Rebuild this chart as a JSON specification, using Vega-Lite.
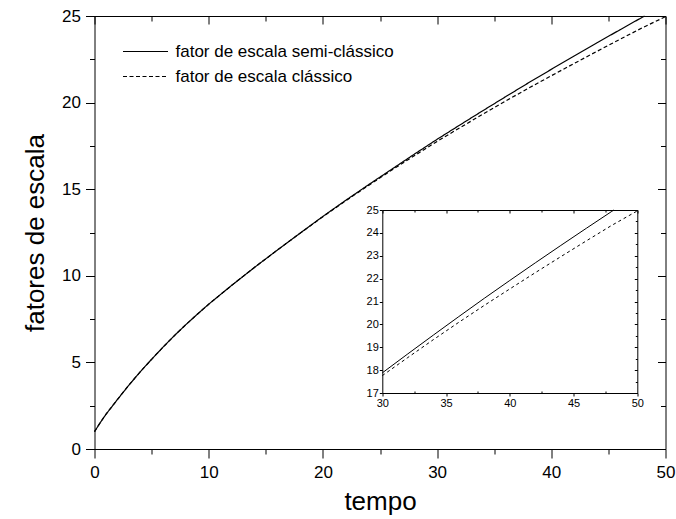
{
  "$schema": "https://vega.github.io/schema/vega-lite/v6.json",
  "width": 571,
  "height": 433,
  "autosize": "none",
  "padding": {"left": 94.5, "top": 16, "right": 10.5, "bottom": 70},
  "background": "white",
  "config": {
    "view": {"stroke": null},
    "font": "Liberation Sans",
    "axis": {
      "domainColor": "black",
      "domainWidth": 1,
      "tickColor": "black",
      "tickWidth": 1,
      "labelColor": "black",
      "labelFont": "Liberation Sans",
      "titleFont": "Liberation Sans",
      "titleColor": "black",
      "titleFontWeight": "normal",
      "grid": false
    }
  },
  "datasets": {
    "curves": [
      {"t": 0, "a": 1.0, "serie": "fator de escala semi-clássico"},
      {"t": 0.5, "a": 1.52, "serie": "fator de escala semi-clássico"},
      {"t": 1, "a": 2.0, "serie": "fator de escala semi-clássico"},
      {"t": 2, "a": 2.85, "serie": "fator de escala semi-clássico"},
      {"t": 3, "a": 3.68, "serie": "fator de escala semi-clássico"},
      {"t": 4, "a": 4.45, "serie": "fator de escala semi-clássico"},
      {"t": 5, "a": 5.18, "serie": "fator de escala semi-clássico"},
      {"t": 6, "a": 5.88, "serie": "fator de escala semi-clássico"},
      {"t": 7, "a": 6.55, "serie": "fator de escala semi-clássico"},
      {"t": 8, "a": 7.18, "serie": "fator de escala semi-clássico"},
      {"t": 9, "a": 7.78, "serie": "fator de escala semi-clássico"},
      {"t": 10, "a": 8.36, "serie": "fator de escala semi-clássico"},
      {"t": 12, "a": 9.44, "serie": "fator de escala semi-clássico"},
      {"t": 14, "a": 10.48, "serie": "fator de escala semi-clássico"},
      {"t": 16, "a": 11.48, "serie": "fator de escala semi-clássico"},
      {"t": 18, "a": 12.46, "serie": "fator de escala semi-clássico"},
      {"t": 20, "a": 13.43, "serie": "fator de escala semi-clássico"},
      {"t": 22, "a": 14.36, "serie": "fator de escala semi-clássico"},
      {"t": 24, "a": 15.26, "serie": "fator de escala semi-clássico"},
      {"t": 26, "a": 16.14, "serie": "fator de escala semi-clássico"},
      {"t": 28, "a": 17.02, "serie": "fator de escala semi-clássico"},
      {"t": 30, "a": 17.88, "serie": "fator de escala semi-clássico"},
      {"t": 32, "a": 18.71, "serie": "fator de escala semi-clássico"},
      {"t": 34, "a": 19.53, "serie": "fator de escala semi-clássico"},
      {"t": 36, "a": 20.34, "serie": "fator de escala semi-clássico"},
      {"t": 38, "a": 21.14, "serie": "fator de escala semi-clássico"},
      {"t": 40, "a": 21.92, "serie": "fator de escala semi-clássico"},
      {"t": 42, "a": 22.69, "serie": "fator de escala semi-clássico"},
      {"t": 44, "a": 23.45, "serie": "fator de escala semi-clássico"},
      {"t": 46, "a": 24.2, "serie": "fator de escala semi-clássico"},
      {"t": 48, "a": 24.94, "serie": "fator de escala semi-clássico"},
      {"t": 48.16, "a": 25.0, "serie": "fator de escala semi-clássico"},
      {"t": 0, "a": 1.0, "serie": "fator de escala clássico"},
      {"t": 0.5, "a": 1.52, "serie": "fator de escala clássico"},
      {"t": 1, "a": 2.0, "serie": "fator de escala clássico"},
      {"t": 2, "a": 2.85, "serie": "fator de escala clássico"},
      {"t": 3, "a": 3.68, "serie": "fator de escala clássico"},
      {"t": 4, "a": 4.45, "serie": "fator de escala clássico"},
      {"t": 5, "a": 5.18, "serie": "fator de escala clássico"},
      {"t": 6, "a": 5.88, "serie": "fator de escala clássico"},
      {"t": 7, "a": 6.55, "serie": "fator de escala clássico"},
      {"t": 8, "a": 7.18, "serie": "fator de escala clássico"},
      {"t": 9, "a": 7.78, "serie": "fator de escala clássico"},
      {"t": 10, "a": 8.36, "serie": "fator de escala clássico"},
      {"t": 12, "a": 9.44, "serie": "fator de escala clássico"},
      {"t": 14, "a": 10.48, "serie": "fator de escala clássico"},
      {"t": 16, "a": 11.48, "serie": "fator de escala clássico"},
      {"t": 18, "a": 12.46, "serie": "fator de escala clássico"},
      {"t": 20, "a": 13.41, "serie": "fator de escala clássico"},
      {"t": 22, "a": 14.33, "serie": "fator de escala clássico"},
      {"t": 24, "a": 15.22, "serie": "fator de escala clássico"},
      {"t": 26, "a": 16.09, "serie": "fator de escala clássico"},
      {"t": 28, "a": 16.93, "serie": "fator de escala clássico"},
      {"t": 30, "a": 17.76, "serie": "fator de escala clássico"},
      {"t": 32, "a": 18.55, "serie": "fator de escala clássico"},
      {"t": 34, "a": 19.33, "serie": "fator de escala clássico"},
      {"t": 36, "a": 20.09, "serie": "fator de escala clássico"},
      {"t": 38, "a": 20.83, "serie": "fator de escala clássico"},
      {"t": 40, "a": 21.55, "serie": "fator de escala clássico"},
      {"t": 42, "a": 22.26, "serie": "fator de escala clássico"},
      {"t": 44, "a": 22.96, "serie": "fator de escala clássico"},
      {"t": 46, "a": 23.65, "serie": "fator de escala clássico"},
      {"t": 48, "a": 24.33, "serie": "fator de escala clássico"},
      {"t": 50, "a": 24.96, "serie": "fator de escala clássico"}
    ]
  },
  "layer": [
    {
      "data": {"name": "curves"},
      "transform": [{"filter": "datum.serie === 'fator de escala semi-clássico'"}],
      "mark": {"type": "line", "color": "black", "strokeWidth": 1.2},
      "encoding": {
        "x": {
          "field": "t", "type": "quantitative",
          "scale": {"domain": [0, 50], "nice": false, "zero": false},
          "axis": {
            "orient": "bottom",
            "title": "tempo",
            "titleFontSize": 26,
            "titlePadding": 8,
            "values": [0, 5, 10, 15, 20, 25, 30, 35, 40, 45, 50],
            "labelExpr": "datum.value % 10 === 0 ? datum.label : ''",
            "labelFontSize": 17,
            "labelPadding": 6,
            "labelFlush": false,
            "tickSize": {"condition": {"test": "datum.value % 10 === 0", "value": 9}, "value": 5}
          }
        },
        "y": {
          "field": "a", "type": "quantitative",
          "scale": {"domain": [0, 25], "nice": false, "zero": false},
          "axis": {
            "orient": "left",
            "title": "fatores de escala",
            "titleFontSize": 26,
            "titlePadding": 13,
            "values": [0, 2.5, 5, 7.5, 10, 12.5, 15, 17.5, 20, 22.5, 25],
            "labelExpr": "datum.value % 5 === 0 ? datum.label : ''",
            "labelFontSize": 17,
            "labelPadding": 5,
            "labelFlush": false,
            "tickSize": {"condition": {"test": "datum.value % 5 === 0", "value": 9}, "value": 5}
          }
        },
        "strokeDash": {
          "field": "serie", "type": "nominal",
          "scale": {
            "domain": ["fator de escala semi-clássico", "fator de escala clássico"],
            "range": [[1, 0], [4, 2.5]]
          },
          "legend": {
            "orient": "none",
            "legendX": 41,
            "legendY": 25.5,
            "title": null,
            "symbolType": "M-2.5,0H2.5",
            "symbolSize": 324,
            "symbolStrokeWidth": 1.2,
            "symbolStrokeColor": "black",
            "labelFontSize": 17,
            "labelColor": "black",
            "labelFont": "Liberation Sans",
            "labelLimit": 0,
            "labelOffset": 20,
            "rowPadding": 7,
            "padding": 0
          }
        }
      }
    },
    {
      "data": {"name": "curves"},
      "transform": [{"filter": "datum.serie === 'fator de escala clássico'"}],
      "mark": {"type": "line", "color": "black", "strokeWidth": 1.2},
      "encoding": {
        "x": {
          "field": "t", "type": "quantitative",
          "scale": {"domain": [0, 50], "nice": false, "zero": false},
          "axis": {
            "orient": "top",
            "title": null,
            "labels": false,
            "values": [0, 5, 10, 15, 20, 25, 30, 35, 40, 45, 50],
            "tickSize": {"condition": {"test": "datum.value % 10 === 0", "value": -8}, "value": -5}
          }
        },
        "y": {
          "field": "a", "type": "quantitative",
          "scale": {"domain": [0, 25], "nice": false, "zero": false},
          "axis": {
            "orient": "right",
            "title": null,
            "labels": false,
            "values": [0, 2.5, 5, 7.5, 10, 12.5, 15, 17.5, 20, 22.5, 25],
            "tickSize": {"condition": {"test": "datum.value % 5 === 0", "value": -8}, "value": -5}
          }
        },
        "strokeDash": {"field": "serie", "type": "nominal"}
      }
    },
    {
      "data": {"name": "curves"},
      "transform": [
        {"filter": "datum.serie === 'fator de escala semi-clássico'"},
        {"filter": "datum.t >= 30"}
      ],
      "mark": {"type": "line", "color": "black", "strokeWidth": 1},
      "encoding": {
        "x": {
          "field": "t", "type": "quantitative",
          "scale": {"domain": [30, 50], "range": [287.8, 542.8], "nice": false, "zero": false},
          "axis": {
            "orient": "bottom",
            "offset": -56,
            "title": null,
            "format": "d",
            "values": [30, 32.5, 35, 37.5, 40, 42.5, 45, 47.5, 50],
            "labelExpr": "datum.value % 5 === 0 ? datum.label : ''",
            "labelFontSize": 11,
            "labelPadding": 1,
            "labelFlush": false,
            "tickSize": {"condition": {"test": "datum.value % 5 === 0", "value": 3}, "value": -2}
          }
        },
        "y": {
          "field": "a", "type": "quantitative",
          "scale": {"domain": [17, 25], "range": [377, 194], "nice": false, "zero": false},
          "axis": {
            "orient": "left",
            "offset": -287.8,
            "title": null,
            "format": "d",
            "values": [17, 17.5, 18, 18.5, 19, 19.5, 20, 20.5, 21, 21.5, 22, 22.5, 23, 23.5, 24, 24.5, 25],
            "labelExpr": "datum.value % 1 === 0 ? datum.label : ''",
            "labelFontSize": 11,
            "labelPadding": 1,
            "labelFlush": false,
            "tickSize": {"condition": {"test": "datum.value % 1 === 0", "value": 3}, "value": -2}
          }
        }
      }
    },
    {
      "data": {"name": "curves"},
      "transform": [
        {"filter": "datum.serie === 'fator de escala clássico'"},
        {"filter": "datum.t >= 30"}
      ],
      "mark": {"type": "line", "color": "black", "strokeWidth": 1, "strokeDash": [3, 3]},
      "encoding": {
        "x": {
          "field": "t", "type": "quantitative",
          "scale": {"domain": [30, 50], "range": [287.8, 542.8], "nice": false, "zero": false},
          "axis": {
            "orient": "top",
            "offset": -194,
            "title": null,
            "labels": false,
            "values": [30, 32.5, 35, 37.5, 40, 42.5, 45, 47.5, 50],
            "tickSize": {"condition": {"test": "datum.value % 5 === 0", "value": -3}, "value": -2}
          }
        },
        "y": {
          "field": "a", "type": "quantitative",
          "scale": {"domain": [17, 25], "range": [377, 194], "nice": false, "zero": false},
          "axis": {
            "orient": "right",
            "offset": -28.2,
            "title": null,
            "labels": false,
            "values": [17, 17.5, 18, 18.5, 19, 19.5, 20, 20.5, 21, 21.5, 22, 22.5, 23, 23.5, 24, 24.5, 25],
            "tickSize": {"condition": {"test": "datum.value % 1 === 0", "value": -3}, "value": -2}
          }
        }
      }
    }
  ],
  "resolve": {
    "scale": {"x": "independent", "y": "independent"},
    "axis": {"x": "independent", "y": "independent"}
  }
}
